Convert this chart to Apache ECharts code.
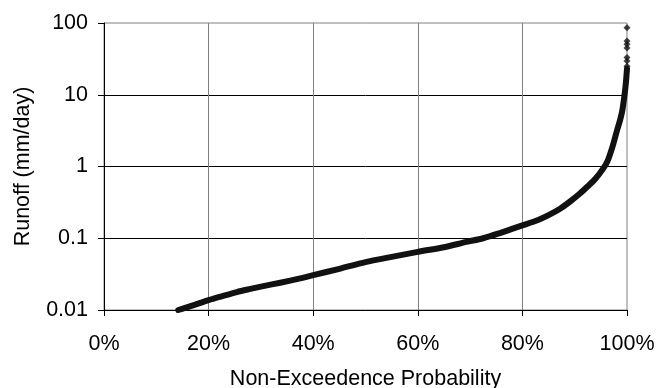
<!DOCTYPE html>
<html>
<head>
<meta charset="utf-8">
<script src="https://cdn.jsdelivr.net/npm/echarts@6/dist/echarts.min.js"></script>
<style>
html, body { margin: 0; padding: 0; background: #fff; }
#chart { width: 667px; height: 388px; }
</style>
</head>
<body>
<div id="chart"></div>
<script>
// non-exceedence probability (%) and runoff (mm/day)
const prob = [14.2, 15.5, 17, 20, 22.5, 25.4, 28, 30, 33.7, 37.5, 40, 45, 50, 55, 60, 65, 69.3, 72.5, 75.7, 78, 80, 83, 85, 87.2, 89, 91, 92.5, 94, 95.5, 96.3, 97.2, 98.1, 98.7, 99.1, 99.4, 99.6, 99.8, 100];
const runoff = [0.0100, 0.0107, 0.0116, 0.0137, 0.0155, 0.0178, 0.0197, 0.0212, 0.0240, 0.0276, 0.0306, 0.0375, 0.0465, 0.0550, 0.0646, 0.0750, 0.0889, 0.100, 0.118, 0.135, 0.151, 0.180, 0.210, 0.258, 0.32, 0.42, 0.53, 0.68, 0.95, 1.2, 1.86, 3.2, 4.5, 6.0, 8.5, 11, 15, 23];
// isolated high-flow days at the top of the curve
const peakProb = [100, 100, 100, 100, 100, 100, 100];
const peakRunoff = [25, 29.6, 33, 45, 50.5, 56, 86];

const xTicks = [0, 20, 40, 60, 80, 100];
const yTickLabels = ['0.01', '0.1', '1', '10', '100'];

const font = "'Liberation Sans', Arial, sans-serif";

const chart = echarts.init(document.getElementById('chart'));
chart.setOption({
    animation: false,
    grid: {
        left: 104,
        right: 40,
        top: 23,
        bottom: 78,
        outerBoundsMode: 'none',
        show: true,
        borderColor: '#808080',
        borderWidth: 1
    },
    xAxis: {
        type: 'value',
        min: xTicks[0],
        max: xTicks[xTicks.length - 1],
        interval: 20,
        name: 'Non-Exceedence Probability',
        nameLocation: 'middle',
        nameGap: 58,
        nameTextStyle: { fontFamily: font, fontSize: 21.5, color: '#000' },
        axisLine: { show: true, lineStyle: { color: '#000', width: 1 } },
        axisTick: { show: true, length: 6, lineStyle: { color: '#000' } },
        axisLabel: {
            margin: 23,
            fontFamily: font,
            fontSize: 21.5,
            color: '#000',
            formatter: '{value}%'
        },
        splitLine: {
            show: true,
            showMaxLine: false,
            lineStyle: { color: '#808080', width: 1 }
        }
    },
    yAxis: {
        type: 'log',
        logBase: 10,
        min: 0.01,
        max: 100,
        name: 'Runoff (mm/day)',
        nameLocation: 'middle',
        nameGap: 70,
        nameTextStyle: { fontFamily: font, fontSize: 21.5, color: '#000' },
        axisLine: { show: true, lineStyle: { color: '#000', width: 1 } },
        axisTick: { show: true, length: 6, lineStyle: { color: '#000' } },
        axisLabel: {
            margin: 16,
            fontFamily: font,
            fontSize: 21.5,
            color: '#000',
            formatter: function (v) {
                return yTickLabels[Math.round(Math.log10(v)) + 2];
            }
        },
        splitLine: {
            show: true,
            showMaxLine: false,
            lineStyle: { color: '#000', width: 1 }
        }
    },
    series: [
        {
            type: 'line',
            data: prob.map((p, i) => [p, runoff[i]]),
            symbol: 'none',
            smooth: 0.3,
            clip: false,
            lineStyle: { color: '#111', width: 6, cap: 'round', join: 'round' }
        },
        {
            type: 'scatter',
            data: peakProb.map((p, i) => [p, peakRunoff[i]]),
            symbol: 'diamond',
            symbolSize: 7,
            clip: false,
            itemStyle: { color: '#111' }
        }
    ]
});
</script>
</body>
</html>
